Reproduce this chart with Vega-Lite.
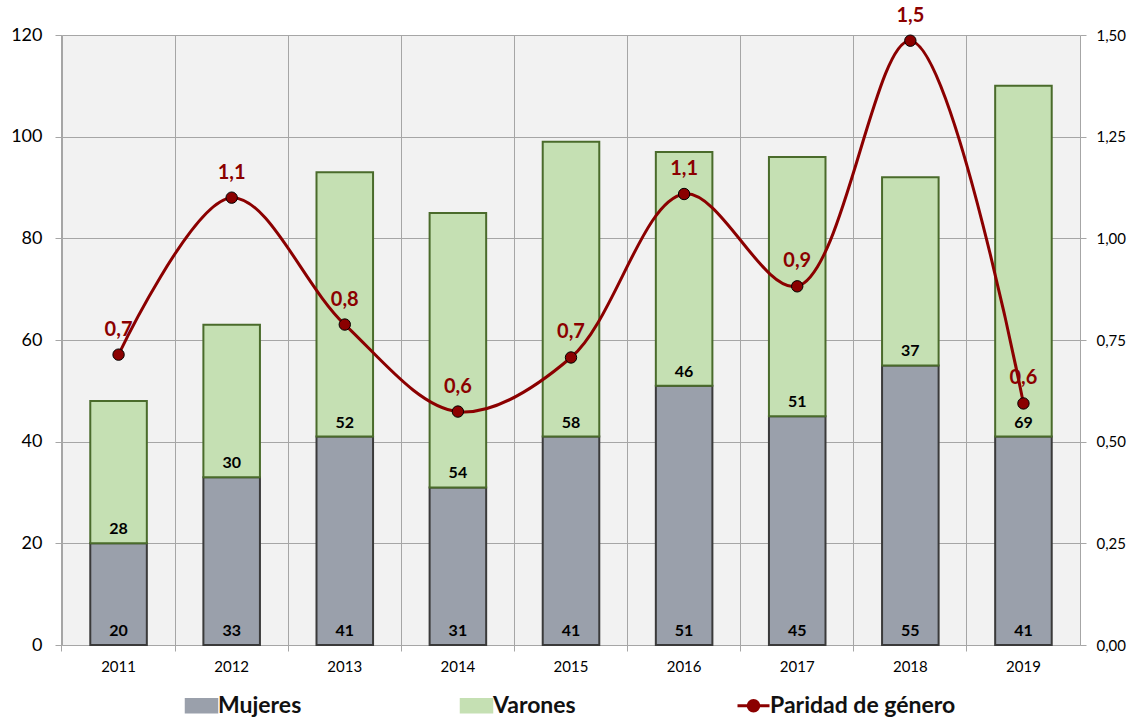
{
  "$schema": "https://vega.github.io/schema/vega-lite/v6.json",
  "width": 1018,
  "height": 610,
  "autosize": "none",
  "padding": {"left": 62, "top": 35, "right": 49, "bottom": 73},
  "background": "white",
  "config": {
    "locale": {"number": {"decimal": ",", "thousands": ".", "grouping": [3], "currency": ["", " €"]}},
    "view": {"fill": "#f2f2f2", "stroke": null},
    "font": "Lato",
    "axis": {"gridColor": "#a6a6a6", "domainColor": "#a6a6a6", "tickColor": "#a6a6a6", "labelColor": "#000000", "labelFont": "Lato", "gridWidth": 1, "domainWidth": 1}
  },
  "data": {
    "values": [
      {"year": "2011", "Mujeres": 20, "Varones": 28, "Paridad": 0.714},
      {"year": "2012", "Mujeres": 33, "Varones": 30, "Paridad": 1.1},
      {"year": "2013", "Mujeres": 41, "Varones": 52, "Paridad": 0.788},
      {"year": "2014", "Mujeres": 31, "Varones": 54, "Paridad": 0.574},
      {"year": "2015", "Mujeres": 41, "Varones": 58, "Paridad": 0.707},
      {"year": "2016", "Mujeres": 51, "Varones": 46, "Paridad": 1.109},
      {"year": "2017", "Mujeres": 45, "Varones": 51, "Paridad": 0.882},
      {"year": "2018", "Mujeres": 55, "Varones": 37, "Paridad": 1.486},
      {"year": "2019", "Mujeres": 41, "Varones": 69, "Paridad": 0.594}
    ]
  },
  "encoding": {
    "x": {
      "field": "year", "type": "nominal", "title": null,
      "scale": {"paddingInner": 0.5, "paddingOuter": 0.25},
      "axis": {"labelAngle": 0, "labelFontSize": 15, "bandPosition": -0.5, "labelOffset": 0, "grid": true, "tickSize": 6, "labelPadding": 8, "domain": true}
    }
  },
  "layer": [
    {
      "transform": [
        {"fold": ["Mujeres", "Varones"], "as": ["serie", "valor"]},
        {"stack": "valor", "groupby": ["year"], "sort": [{"field": "serie", "order": "ascending"}], "as": ["v0", "v1"]}
      ],
      "layer": [
        {
          "mark": {"type": "bar", "strokeWidth": 2},
          "encoding": {
            "y": {"field": "v1", "type": "quantitative", "title": null,
              "scale": {"domain": [0, 120], "nice": false},
              "axis": {"values": [0, 20, 40, 60, 80, 100, 120], "labelFontSize": 18, "tickSize": 7, "labelPadding": 13, "grid": true}},
            "y2": {"field": "v0"},
            "color": {
              "field": "serie", "type": "nominal",
              "scale": {"domain": ["Mujeres", "Varones", "Paridad de género"], "range": ["#9aa0ab", "#c5e0b3", "#8b0000"]},
              "legend": {
                "orient": "none", "legendX": 128, "legendY": 659, "direction": "horizontal", "title": null,
                "labelFont": "Lato", "labelFontSize": 23, "labelFontWeight": "bold", "labelColor": "#111111", "labelLimit": 400,
                "symbolSize": 1024, "columnPadding": 155, "labelOffset": 5,
                "encode": {
                  "symbols": {"update": {
                    "shape": {"signal": "datum.value === 'Paridad de género' ? 'M-1,0L-0.33,0M0.33,0L1,0M0.33,0A0.33,0.33 0 1,1 -0.33,0A0.33,0.33 0 1,1 0.33,0Z' : 'M-1,-0.44L1,-0.44L1,0.44L-1,0.44Z'"},
                    "stroke": {"signal": "datum.value === 'Paridad de género' ? '#8b0000' : '#404040'"},
                    "strokeWidth": {"signal": "datum.value === 'Paridad de género' ? 3 : 1.5"}
                  }}
                }
              }
            },
            "stroke": {
              "field": "serie", "type": "nominal",
              "scale": {"domain": ["Mujeres", "Varones"], "range": ["#3a3a3a", "#4a6b2b"]},
              "legend": null
            }
          }
        },
        {
          "mark": {"type": "text", "dy": -14, "baseline": "middle", "fontSize": 16, "fontWeight": "bold", "font": "Lato", "color": "#000000"},
          "encoding": {
            "y": {"field": "v0", "type": "quantitative"},
            "text": {"field": "valor", "type": "quantitative"}
          }
        }
      ]
    },
    {
      "layer": [
        {
          "mark": {"type": "line", "interpolate": "catmull-rom", "strokeWidth": 3},
          "encoding": {
            "y": {"field": "Paridad", "type": "quantitative", "title": null,
              "scale": {"domain": [0, 1.5], "nice": false},
              "axis": {"orient": "right", "values": [0, 0.25, 0.5, 0.75, 1, 1.25, 1.5], "format": ".2f", "labelFontSize": 15, "tickSize": 6, "labelPadding": 10, "grid": false}},
            "color": {"datum": "Paridad de género"}
          }
        },
        {
          "mark": {"type": "point", "filled": true, "size": 130, "stroke": "#000000", "strokeWidth": 1, "opacity": 1},
          "encoding": {
            "y": {"field": "Paridad", "type": "quantitative"},
            "color": {"datum": "Paridad de género"}
          }
        },
        {
          "mark": {"type": "text", "dy": -25, "baseline": "middle", "fontSize": 20, "fontWeight": "bold", "font": "Lato", "color": "#8b0000"},
          "encoding": {
            "y": {"field": "Paridad", "type": "quantitative"},
            "text": {"field": "Paridad", "type": "quantitative", "format": ".1f"}
          }
        }
      ]
    }
  ],
  "resolve": {"scale": {"y": "independent", "stroke": "independent"}}
}
